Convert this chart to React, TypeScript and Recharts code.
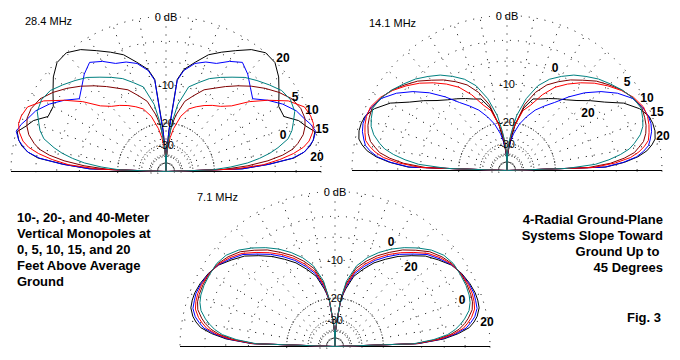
import { PolarAngleAxis, PolarGrid, PolarRadiusAxis, Radar, RadarChart } from "recharts";

// elevation angles (deg) the patterns were read at; 90..180 is the mirror image
const ELEV = [0, 2, 4, 6, 8, 10, 12, 15, 18, 21, 25, 30, 35, 40, 45, 50, 55, 60, 65, 70, 75, 80, 83, 86, 88, 90];

// 28.4 MHz, gain in dB per antenna height (ft)
const M28_H0 = [-99, -20.7, -14.9, -10.9, -8.5, -6.6, -5.2, -3.5, -2.7, -2.2, -1.5, -1.3, -1.6, -2.4, -3.2, -4.0, -5.1, -6.1, -7.1, -8.5, -9.8, -14.1, -19.6, -29.4, -39.5, -99];
const M28_H5 = [-99, -17.1, -10.9, -7.1, -4.7, -3.2, -2.4, -1.5, -1.0, -0.7, -0.7, -1.1, -2.0, -3.1, -4.3, -5.6, -6.9, -8.2, -9.3, -11.2, -13.0, -17.1, -20.7, -27.6, -36.4, -99];
const M28_H10 = [-99, -14.1, -7.9, -5.2, -3.2, -1.8, -1.0, -0.35, 0, 0, -0.25, -1.6, -3.8, -6.1, -8.8, -10.3, -11.2, -12.2, -13.3, -14.5, -17.1, -21.8, -26, -32.6, -39.5, -99];
const M28_H15 = [-99, -12, -6.9, -3.4, -1.8, -1.1, -0.5, 0, -0.3, -0.8, -1.3, -2.4, -3.8, -5.4, -4.5, -3.4, -2.6, -3.4, -4.5, -4.9, -5.6, -7.1, -9.0, -23.8, -36, -99];
const M28_H20 = [-99, -12.2, -7.1, -3.2, -1.8, -1.0, -0.5, -0.1, -0.9, -1.5, -3.0, -3.0, -2.0, -0.9, -0.1, 0, -0.7, -1.8, -2.8, -3.8, -5.4, -6.9, -8.8, -22.5, -39.5, -99];

// 14.1 MHz
const M14_H0 = [-99, -16.2, -9.6, -7.1, -5.2, -3.8, -3.0, -2.0, -1.4, -1.1, -0.8, -1.1, -1.7, -2.4, -3.1, -4.0, -4.9, -6.1, -7.4, -9.3, -12.6, -17.5, -23.1, -29.4, -36.4, -99];
const M14_H5 = [-99, -11.2, -6.9, -4.7, -3.2, -2.5, -1.8, -1.3, -1.0, -0.85, -0.7, -1.1, -1.7, -2.6, -3.5, -4.7, -5.8, -7.1, -8.5, -10.7, -14.1, -20.7, -25.2, -32.6, -39.5, -99];
const M14_H10 = [-99, -10.0, -6.1, -3.8, -2.6, -1.8, -1.2, -0.9, -0.65, -0.5, -0.5, -1.0, -1.8, -2.8, -3.9, -5.2, -6.6, -8.2, -10.6, -13.7, -15.7, -20.7, -23.8, -30, -38, -99];
const M14_H15 = [-99, -7.9, -4.9, -3.0, -2.0, -1.3, -1.0, -0.6, -0.4, -0.4, -0.6, -1.2, -2.4, -4.0, -5.9, -8.2, -10.7, -12.6, -14.5, -17.1, -20.1, -24.5, -28.5, -33.7, -39.5, -99];
const M14_H20 = [-99, -7.7, -4.7, -2.8, -1.6, -0.9, -0.4, -0.2, -0.2, -0.35, -1.0, -2.4, -4.5, -6.1, -7.7, -8.9, -9.8, -10.7, -11.6, -12.2, -15.0, -20.7, -27.6, -35, -43, -99];

// 7.1 MHz
const M7_H0 = [-99, -11.6, -7.7, -5.4, -4.2, -3.4, -2.7, -1.9, -1.5, -1.3, -1.2, -1.2, -1.2, -1.5, -2.2, -3.2, -4.3, -5.5, -6.9, -8.5, -10.6, -14.5, -20.1, -31.4, -39.5, -99];
const M7_H5 = [-99, -11.2, -7.1, -4.9, -3.6, -2.8, -2.2, -1.5, -1.2, -1.1, -1.06, -1.1, -1.3, -1.8, -2.5, -3.6, -4.7, -6.1, -7.5, -9.2, -11.2, -15.3, -20.1, -31.4, -39.5, -99];
const M7_H10 = [-99, -11.0, -6.7, -4.5, -3.1, -2.4, -1.8, -1.2, -1.0, -0.9, -0.9, -1.1, -1.4, -2.0, -2.8, -4.0, -5.2, -6.5, -8.0, -9.8, -11.9, -15.9, -20.4, -32, -39.5, -99];
const M7_H15 = [-99, -10.8, -6.4, -4.2, -2.7, -2.0, -1.4, -0.9, -0.8, -0.7, -0.8, -1.06, -1.45, -2.2, -3.0, -4.3, -5.5, -6.9, -8.4, -10.3, -12.4, -16.4, -20.7, -32.3, -39.5, -99];
const M7_H20 = [-99, -10.6, -6.0, -3.8, -2.3, -1.6, -1.1, -0.65, -0.55, -0.55, -0.7, -1.0, -1.5, -2.4, -3.3, -4.6, -5.9, -7.4, -8.9, -10.9, -13.0, -17.1, -20.7, -32.6, -39.5, -99];

const OUTER_RINGS = [0, -3, -6, -10];
const INNER_RINGS = [-20, -30, -40, -50];
const DB_LABELS = [0, -10, -20, -30];
const SPOKES = [0, 10, 20, 30, 40, 50, 60, 70, 80, 90, 100, 110, 120, 130, 140, 150, 160, 170, 180];

// draw order: black on the bottom, teal on top
const SERIES = [
  { key: "h20", color: "#000000" },
  { key: "h15", color: "#0000ff" },
  { key: "h5", color: "#800000" },
  { key: "h10", color: "#ff0000" },
  { key: "h0", color: "#008080" },
];

const RADIUS = 155;

// ARRL log scale: every 2 dB shrinks the radius by 0.89
const arrl = (db: number) => Math.pow(0.89, -db / 2);
const fromArrl = (t: number) => Math.round((-2 * Math.log(t)) / Math.log(0.89));

function buildRows(byHeight: Record<string, number[]>) {
  const half = ELEV.map((a, i) => ({ a, i }));
  const all = [...half, ...half.slice(0, -1).reverse().map(({ a, i }) => ({ a: 180 - a, i }))];
  return all.map(({ a, i }) => {
    const row: Record<string, number> = { ang: a };
    for (const k of Object.keys(byHeight)) row[k] = arrl(byHeight[k][i]);
    return row;
  });
}

const rows28 = buildRows({ h0: M28_H0, h5: M28_H5, h10: M28_H10, h15: M28_H15, h20: M28_H20 });
const rows14 = buildRows({ h0: M14_H0, h5: M14_H5, h10: M14_H10, h15: M14_H15, h20: M14_H20 });
const rows7 = buildRows({ h0: M7_H0, h5: M7_H5, h10: M7_H10, h15: M7_H15, h20: M7_H20 });

const FONT = '"Liberation Sans", Arial, sans-serif';

const DbTick = (p: any) => {
  const db = fromArrl(p.payload.value);
  return (
    <text x={p.x} y={p.y} textAnchor="middle" dominantBaseline="central" fontSize={11} fontFamily={FONT} fill="#000">
      {db === 0 ? "0 dB" : String(db)}
    </text>
  );
};

function Pattern({ rows, left, top }: { rows: Record<string, number>[]; left: number; top: number }) {
  return (
    <div style={{ position: "absolute", left, top, width: 330, height: 168 }}>
      <RadarChart
        width={330}
        height={168}
        data={rows}
        cx={165}
        cy={165.5}
        outerRadius={RADIUS}
        startAngle={0}
        endAngle={180}
        margin={{ top: 0, right: 0, bottom: 0, left: 0 }}
      >
        <PolarGrid
          gridType="circle"
          polarAngles={SPOKES}
          polarRadius={OUTER_RINGS.map((d) => arrl(d) * RADIUS)}
          stroke="#000"
          strokeDasharray="1 7"
        />
        <PolarGrid
          gridType="circle"
          radialLines={false}
          polarAngles={SPOKES}
          polarRadius={INNER_RINGS.map((d) => arrl(d) * RADIUS)}
          stroke="#000"
          strokeDasharray="1 2"
        />
        {/* ground line */}
        <PolarGrid gridType="circle" polarAngles={[0, 180]} polarRadius={[0.01]} stroke="#000" strokeWidth={1} />
        <PolarAngleAxis dataKey="ang" type="number" domain={[0, 180]} tickCount={19} tick={false} axisLine={false} />
        <PolarRadiusAxis angle={90} type="number" domain={[0, 1]} ticks={DB_LABELS.map(arrl)} tick={DbTick} axisLine={false} tickLine={false} />
        {SERIES.map((s) => (
          <Radar
            key={s.key}
            dataKey={s.key}
            stroke={s.color}
            strokeWidth={1}
            fill="none"
            fillOpacity={0}
            dot={false}
            isAnimationActive={false}
          />
        ))}
      </RadarChart>
    </div>
  );
}

function Txt({ x, y, children, bold, size = 12 }: { x: number; y: number; children: any; bold?: boolean; size?: number }) {
  return (
    <div
      style={{
        position: "absolute",
        left: x,
        top: y,
        transform: "translate(-50%, -50%)",
        fontFamily: FONT,
        fontSize: size,
        fontWeight: bold ? 700 : 400,
        lineHeight: 1,
        whiteSpace: "nowrap",
        color: "#000",
      }}
    >
      {children}
    </div>
  );
}

function Title({ x, y, children }: { x: number; y: number; children: any }) {
  return (
    <div style={{ position: "absolute", left: x, top: y, transform: "translateY(-50%)", fontFamily: FONT, fontSize: 11, lineHeight: 1, whiteSpace: "nowrap" }}>
      {children}
    </div>
  );
}

const blockStyle = {
  position: "absolute" as const,
  fontFamily: FONT,
  fontSize: 13,
  fontWeight: 700,
  lineHeight: "16px",
  whiteSpace: "nowrap" as const,
};

export default function App() {
  return (
    <div style={{ position: "absolute", left: 0, top: 0, width: 680, height: 360, background: "#fff", overflow: "hidden" }}>
      <Pattern rows={rows28} left={1} top={6} />
      <Pattern rows={rows14} left={342} top={5} />
      <Pattern rows={rows7} left={170} top={181} />

      <Title x={25} y={21}>28.4 MHz</Title>
      <Title x={369} y={23}>14.1 MHz</Title>
      <Title x={197} y={197}>7.1 MHz</Title>

      <Txt x={283} y={58} bold>20</Txt>
      <Txt x={295} y={97} bold>5</Txt>
      <Txt x={312} y={110} bold>10</Txt>
      <Txt x={322} y={129} bold>15</Txt>
      <Txt x={283} y={135} bold>0</Txt>
      <Txt x={317} y={157} bold>20</Txt>

      <Txt x={555} y={68} bold>0</Txt>
      <Txt x={627} y={82} bold>5</Txt>
      <Txt x={647} y={98} bold>10</Txt>
      <Txt x={657} y={112} bold>15</Txt>
      <Txt x={588} y={113} bold>20</Txt>
      <Txt x={663} y={136} bold>20</Txt>

      <Txt x={391} y={242} bold>0</Txt>
      <Txt x={411} y={267} bold>20</Txt>
      <Txt x={462} y={300} bold>0</Txt>
      <Txt x={487} y={322} bold>20</Txt>

      <div style={{ ...blockStyle, left: 17, top: 210 }}>
        10-, 20-, and 40-Meter
        <br />
        Vertical Monopoles at
        <br />
        0, 5, 10, 15, and 20
        <br />
        Feet Above Average
        <br />
        Ground
      </div>
      <div style={{ ...blockStyle, right: 17, top: 212, textAlign: "right" }}>
        4-Radial Ground-Plane
        <br />
        Systems Slope Toward
        <br />
        Ground Up to{"\u00a0"}
        <br />
        45 Degrees
      </div>
      <div style={{ ...blockStyle, left: 627, top: 310 }}>Fig. 3</div>
    </div>
  );
}
